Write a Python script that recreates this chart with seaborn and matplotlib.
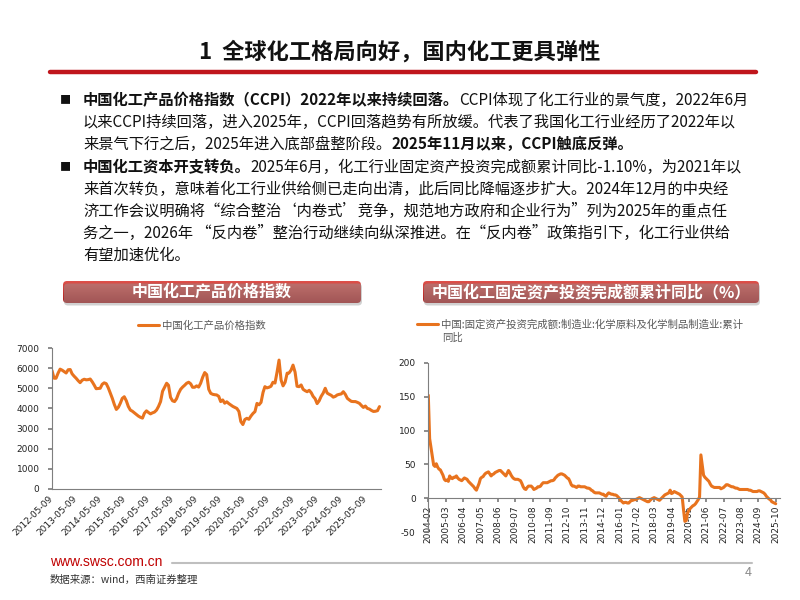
import numpy as np
import pandas as pd
import matplotlib
matplotlib.use("Agg")
import matplotlib.pyplot as plt
import seaborn as sns
from matplotlib.patches import FancyBboxPatch
from matplotlib.lines import Line2D

# CCPI, monthly readings 2012-05 .. 2025-12
ccpi = [5880, 5500, 5500, 5750, 5950, 5900, 5830, 5760, 5920, 5930, 5720, 5600,
        5500, 5380, 5280, 5400, 5450, 5420, 5430, 5460, 5320, 5150, 4980, 4990,
        5000, 5200, 5270, 5230, 5020, 4760, 4500, 4200, 3950, 4060, 4250, 4500,
        4580, 4380, 4100, 3920, 3860, 3780, 3700, 3620, 3560, 3520, 3760, 3880,
        3800, 3730, 3780, 3820, 3920, 4100, 4340, 4850, 5050, 5250, 5150, 4550,
        4380, 4340, 4480, 4750, 4950, 5060, 5150, 5250, 5300, 5220, 5050, 5050,
        5120, 5060, 5250, 5550, 5780, 5680, 4950, 4750, 4700, 4680, 4670, 4600,
        4340, 4420, 4260, 4330, 4240, 4170, 4100, 4050, 4000, 3850, 3350, 3200,
        3450, 3510, 3460, 3620, 3750, 3840, 4250, 4180, 4300, 4800, 5080, 5020,
        5050, 5100, 5300, 5260, 5800, 6400, 5410, 5120, 5300, 5750, 5760, 5900,
        6150, 5800, 5100, 5080, 5165, 4950, 4880, 4830, 4900, 4780, 4600, 4480,
        4240, 4380, 4600, 4760, 5000, 4760, 4700, 4650, 4560, 4600, 4670, 4700,
        4720, 4830, 4700, 4500, 4420, 4350, 4340, 4340, 4300, 4250, 4150, 4050,
        4120, 4000, 3970, 3900, 3850, 3860, 3890, 4090]
ccpi_label = "中国化工产品价格指数"

# chemical FAI cumulative yoy (%), monthly 2004-02 .. 2025-10
fai = [152, 88, 75, 62, 49, 47, 51, 46, 43, 42, 38, 34, 28, 26, 27, 25, 33, 30, 29, 31,
       31, 33, 30, 28, 27, 26, 28, 30, 29, 28, 25, 23, 21, 19, 17, 14, 12, 17, 22, 29,
       31, 32, 35, 37, 38, 39, 36, 33, 35, 36, 38, 39, 40, 41, 41, 39, 37, 35, 33, 37,
       41, 38, 34, 31, 29, 28, 28, 28, 27, 26, 22, 17, 14, 13, 16, 18, 18, 18, 16, 13,
       14, 15, 17, 17, 18, 21, 23, 23, 23, 23, 24, 25, 26, 26, 27, 30, 32, 34, 35, 36,
       36, 35, 34, 32, 30, 29, 25, 20, 18, 18, 17, 16, 18, 18, 17, 17, 17, 17, 16, 15,
       15, 14, 12, 11, 9, 8, 8, 8, 8, 7, 6, 6, 4, 3, 6, 8, 7, 6, 6, 5,
       5, 4, 2, 0, -3, -5, -7, -6, -6, -7, -7, -5, -3, -3, -2, -2, -1, 0, 1, 0,
       -1, -2, -3, -4, -5, -5, -3, -1, 0, 1, 0, -1, -2, -3, -1, 1, 3, 5, 6, 7,
       8, 12, 7, 8, 10, 9, 8, 7, 6, 4, 2, -17, -34, -33, -22, -18, -15, -13, -11, -10,
       -8, -5, -2, 2, 64, 49, 34, 31, 29, 27, 25, 21, 18, 17, 16, 16, 16, 16, 16, 14,
       15, 16, 18, 20, 20, 19, 18, 17, 17, 16, 15, 15, 14, 13, 13, 13, 13, 13, 13, 13,
       12, 12, 11, 10, 10, 10, 10, 11, 11, 10, 9, 8, 6, 3, 1, -1, -2, -5, -6, -7, -8]
fai_label = "中国:固定资产投资完成额:制造业:化学原料及化学制品制造业:累计"
fai_label_2 = "同比"

title = "1  全球化工格局向好，国内化工更具弹性"
banner_left = "中国化工产品价格指数"
banner_right = "中国化工固定资产投资完成额累计同比（%）"
body = [
    (100, True, [("中国化工产品价格指数（CCPI）2022年以来持续回落。", True),
                 ("CCPI体现了化工行业的景气度，2022年6月", False)]),
    (122, False, [("以来CCPI持续回落，进入2025年，CCPI回落趋势有所放缓。代表了我国化工行业经历了2022年以", False)]),
    (144, False, [("来景气下行之后，2025年进入底部盘整阶段。", False),
                  ("2025年11月以来，CCPI触底反弹。", True)]),
    (167, True, [("中国化工资本开支转负。", True),
                 ("2025年6月，化工行业固定资产投资完成额累计同比-1.10%，为2021年以", False)]),
    (189, False, [("来首次转负，意味着化工行业供给侧已走向出清，此后同比降幅逐步扩大。2024年12月的中央经", False)]),
    (211, False, [("济工作会议明确将“综合整治‘内卷式’竞争，规范地方政府和企业行为”列为2025年的重点任", False)]),
    (233, False, [("务之一，2026年 “反内卷”整治行动继续向纵深推进。在“反内卷”政策指引下，化工行业供给", False)]),
    (255, False, [("有望加速优化。", False)]),
]

sns.set_theme(style="white")
CJK = ["Noto Sans CJK SC", "DejaVu Sans"]
plt.rcParams["font.family"] = CJK
plt.rcParams["axes.unicode_minus"] = False

W, H = 800, 600
ORANGE = "#E8731E"
fig = plt.figure(figsize=(8, 6), dpi=100)
renderer = fig.canvas.get_renderer()


def fx(x):
    return x / W


def fy(y):
    return 1 - y / H


# title + red rule
fig.text(fx(400), fy(52), title, ha="center", va="center", fontsize=16,
         fontweight="bold", color="#111111")
fig.add_artist(Line2D([fx(50), fx(756)], [fy(72), fy(72)], color="#C0161C", lw=3.2))

# body text
for y, bullet, segs in body:
    if bullet:
        fig.text(fx(60), fy(y), "■", ha="left", va="center", fontsize=8, color="#111111")
    x = 83
    for txt, bold in segs:
        t = fig.text(fx(x), fy(y), txt, ha="left", va="center", fontsize=11,
                     fontweight="bold" if bold else "normal", color="#111111")
        x += t.get_window_extent(renderer).width


def banner(x0, y0, x1, y1, text, size):
    w, h = x1 - x0, y1 - y0
    ax = fig.add_axes([fx(x0 - 2), fy(y1 + 4), (w + 5) / W, (h + 6) / H])
    ax.set_xlim(-2, w + 3)
    ax.set_ylim(-4, h + 2)
    ax.axis("off")
    shadow = FancyBboxPatch((1, -2.5), w, h, boxstyle="round,pad=0,rounding_size=4",
                            fc="#9a9a9a", ec="none", alpha=0.45)
    ax.add_patch(shadow)
    box = FancyBboxPatch((0, 0), w, h, boxstyle="round,pad=0,rounding_size=4",
                         fc="none", ec="none")
    ax.add_patch(box)
    top = np.array([222, 80, 74]) / 255
    bot = np.array([168, 30, 30]) / 255
    t = np.linspace(0, 1, 40)[:, None, None]
    grad = top * (1 - t) + bot * t
    im = ax.imshow(grad, extent=[0, w, 0, h], aspect="auto", origin="upper")
    im.set_clip_path(box)
    ax.text(w / 2, h / 2, text, ha="center", va="center", fontsize=size,
            fontweight="bold", color="white")


banner(63, 281, 361, 303, banner_left, 11.5)
banner(423, 281, 759, 303, banner_right, 11.5)

# left chart
dates = pd.date_range("2012-05-01", periods=len(ccpi), freq="MS") + pd.Timedelta(days=8)
ticks_l = pd.date_range("2012-05-09", "2025-05-09", freq=pd.DateOffset(years=1))
axL = fig.add_axes([fx(52), fy(489), 329 / W, 141 / H])
sns.lineplot(x=dates, y=ccpi, ax=axL, color=ORANGE, lw=2.2, label=ccpi_label)
axL.set_xlim(ticks_l[0], pd.Timestamp("2026-01-01"))
axL.set_ylim(0, 7000)
axL.set_yticks(range(0, 7001, 1000))
axL.set_xticks(ticks_l)
axL.set_xticklabels([d.strftime("%Y-%m-%d") for d in ticks_l], rotation=45,
                    ha="right", va="center", rotation_mode="anchor")
axL.tick_params(axis="x", direction="in", length=3, pad=6, labelsize=6.5,
                color="#7F7F7F", labelcolor="#222222")
axL.tick_params(axis="y", direction="out", length=3, pad=6, labelsize=6.5,
                color="#7F7F7F", labelcolor="#222222", left=True)
axL.legend(loc="center", bbox_to_anchor=(fx(202), fy(326)), bbox_transform=fig.transFigure,
           frameon=False, fontsize=7.5, handlelength=2.0, handletextpad=0.3,
           labelcolor="#595959")

# right chart
idx = np.arange(len(fai))
months = pd.period_range("2004-02", periods=len(fai), freq="M").strftime("%Y-%m")
axR = fig.add_axes([fx(428.3), fy(532.2), 351.7 / W, 169.5 / H])
sns.lineplot(x=idx, y=fai, ax=axR, color=ORANGE, lw=2.2, label=fai_label)
axR.spines["bottom"].set_position(("data", 0))
axR.set_xlim(0, 263.2)
axR.set_ylim(-50, 200)
axR.set_yticks(range(-50, 201, 50))
axR.set_xticks(idx[::13])
axR.set_xticklabels(months[::13], rotation=90, ha="center", va="top")
axR.tick_params(axis="x", direction="out", length=3, pad=2, labelsize=6.5,
                color="#7F7F7F", labelcolor="#222222", bottom=True)
axR.tick_params(axis="y", direction="out", length=3, pad=6, labelsize=6.5,
                color="#7F7F7F", labelcolor="#222222", left=True)
axR.legend(loc="center left", bbox_to_anchor=(fx(417), fy(324.5)),
           bbox_transform=fig.transFigure, frameon=False, fontsize=7.5,
           handlelength=2.0, handletextpad=0.3, labelcolor="#595959",
           borderpad=0, borderaxespad=0)
fig.text(fx(442), fy(338), fai_label_2, ha="left", va="center", fontsize=7.5,
         color="#595959")

for ax in (axL, axR):
    ax.set_xlabel("")
    ax.set_ylabel("")
    ax.tick_params(axis="both", labelfontfamily="DejaVu Sans")
    sns.despine(ax=ax)
    for s in ("left", "bottom"):
        ax.spines[s].set_color("#7F7F7F")
        ax.spines[s].set_linewidth(0.8)

# footer
fig.text(fx(50), fy(562), "www.swsc.com.cn", ha="left", va="center", fontsize=10,
         color="#C00000", family=["Liberation Sans", "DejaVu Sans"])
fig.add_artist(Line2D([fx(172), fx(752)], [fy(563), fy(563)], color="#BFBFBF", lw=1.5))
fig.text(fx(50), fy(580), "数据来源：wind，西南证券整理", ha="left", va="center",
         fontsize=7.5, color="#333333", style="italic")
fig.text(fx(752), fy(573), "4", ha="right", va="center", fontsize=9, color="#8C8C8C")

fig.savefig("out.png", dpi=100)
